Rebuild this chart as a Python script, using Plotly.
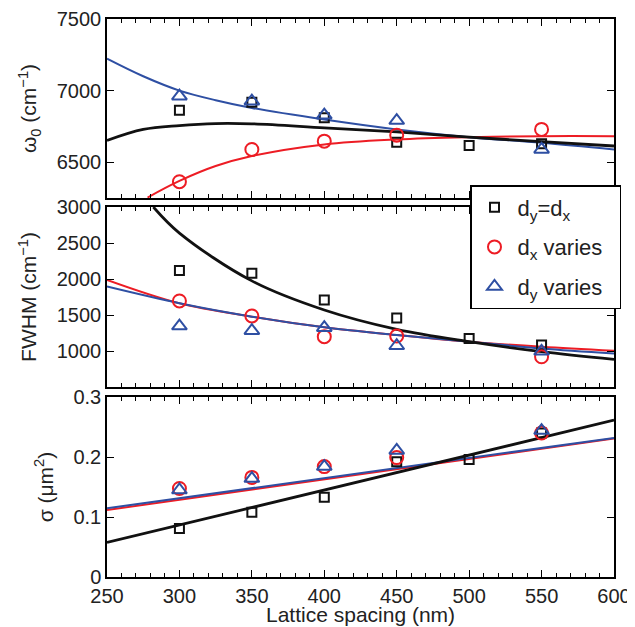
import plotly.graph_objects as go

# ---------------- data ----------------
spacing = [300, 350, 400, 450, 500, 550]
spacing_v = [300, 350, 400, 450, 550]

w0_eq = [6863, 6919, 6810, 6640, 6617, 6629]
w0_dx = [6364, 6589, 6647, 6689, 6729]
w0_dy = [6961, 6926, 6828, 6791, 6589]

fwhm_eq = [2118, 2081, 1709, 1459, 1175, 1083]
fwhm_dx = [1695, 1487, 1199, 1208, 920]
fwhm_dy = [1347, 1282, 1324, 1073, 995]

sig_eq = [0.081, 0.108, 0.133, 0.192, 0.196, 0.240]
sig_dx = [0.1475, 0.166, 0.184, 0.199, 0.240]
sig_dy = [0.145, 0.164, 0.184, 0.211, 0.244]

# fit curves
fit_x = [250, 275, 300, 325, 350, 400, 450, 500, 550, 600]
w0_fit_eq = [6652, 6729, 6756, 6770, 6768, 6740, 6712, 6675, 6643, 6613]
w0_fit_dy = [7223, 7100, 7000, 6933, 6879, 6798, 6729, 6675, 6636, 6589]
w0_fit_dx_x = [278, 300, 325, 350, 400, 450, 500, 550, 600]
w0_fit_dx = [6253, 6369, 6473, 6543, 6624, 6659, 6675, 6682, 6682]

fw_fit_eq_x = [282, 300, 350, 400, 450, 500, 550, 600]
fw_fit_eq = [3000, 2638, 1974, 1570, 1301, 1129, 990, 883]
fw_fit_v_x = [250, 300, 350, 400, 450, 500, 550, 600]
fw_fit_dx = [1988, 1663, 1477, 1329, 1222, 1129, 1059, 1003]
fw_fit_dy = [1895, 1663, 1477, 1329, 1222, 1129, 1036, 966]

lin_x = [250, 600]
sig_fit_eq = [0.0575, 0.2615]
sig_fit_dx = [0.1117, 0.2307]
sig_fit_dy = [0.1145, 0.2318]

xticks = [250, 300, 350, 400, 450, 500, 550, 600]

BLACK = "#111111"
RED = "#ED1C24"
BLUE = "#2E4FA3"

fig = go.Figure()

def add_panel(n, fx_eq, f_eq, fx_dx, f_dx, fx_dy, f_dy, y_eq, y_dx, y_dy, shape, show):
    xa = "x" if n == 1 else f"x{n}"
    ya = "y" if n == 1 else f"y{n}"
    fig.add_trace(go.Scatter(x=fx_dx, y=f_dx, mode="lines", line=dict(color=RED, width=2, shape=shape, smoothing=1),
                             xaxis=xa, yaxis=ya, showlegend=False, hoverinfo="skip"))
    fig.add_trace(go.Scatter(x=fx_dy, y=f_dy, mode="lines", line=dict(color=BLUE, width=2, shape=shape, smoothing=1),
                             xaxis=xa, yaxis=ya, showlegend=False, hoverinfo="skip"))
    fig.add_trace(go.Scatter(x=fx_eq, y=f_eq, mode="lines", line=dict(color=BLACK, width=2.8, shape=shape, smoothing=1),
                             xaxis=xa, yaxis=ya, showlegend=False, hoverinfo="skip"))
    fig.add_trace(go.Scatter(x=spacing, y=y_eq, mode="markers", name="d<sub>y</sub>=d<sub>x</sub>",
                             marker=dict(symbol="square-open", size=9, color=BLACK, line=dict(width=2)),
                             xaxis=xa, yaxis=ya, showlegend=show, legendgroup="g1", legendrank=1))
    fig.add_trace(go.Scatter(x=spacing_v, y=y_dx, mode="markers", name="d<sub>x</sub> varies&nbsp;&nbsp;",
                             marker=dict(symbol="circle-open", size=13, color=RED, line=dict(width=2)),
                             xaxis=xa, yaxis=ya, showlegend=show, legendgroup="g2", legendrank=2))
    fig.add_trace(go.Scatter(x=spacing_v, y=y_dy, mode="markers", name="d<sub>y</sub> varies",
                             marker=dict(symbol="triangle-up-open", size=13, color=BLUE, line=dict(width=2)),
                             xaxis=xa, yaxis=ya, showlegend=show, legendgroup="g3", legendrank=3))

add_panel(1, fit_x, w0_fit_eq, w0_fit_dx_x, w0_fit_dx, fit_x, w0_fit_dy, w0_eq, w0_dx, w0_dy, "spline", True)
add_panel(2, fw_fit_eq_x, fw_fit_eq, fw_fit_v_x, fw_fit_dx, fw_fit_v_x, fw_fit_dy, fwhm_eq, fwhm_dx, fwhm_dy, "spline", False)
add_panel(3, lin_x, sig_fit_eq, lin_x, sig_fit_dx, lin_x, sig_fit_dy, sig_eq, sig_dx, sig_dy, "linear", False)

FONT = "Liberation Sans, Arial, sans-serif"
common_ax = dict(showline=True, linecolor="black", linewidth=1.5, mirror="allticks",
                 ticks="inside", tickcolor="black", ticklen=7, tickwidth=1.2,
                 showgrid=False, zeroline=False, automargin=False,
                 tickfont=dict(size=20, color="#222"))
xcommon = dict(common_ax, range=[250, 600], tickvals=xticks,
               minor=dict(dtick=10, tick0=250, ticks="inside", ticklen=4, tickcolor="black", tickwidth=1))

d1 = [379/558, 1.0]
d2 = [190/558, 370/558]
d3 = [0.0, 180/558]

# page body has an 8px default margin; figure is sized so the plot area lands where the reference has it
fig.update_layout(
    width=627, height=619,
    margin=dict(l=99, r=21, t=11, b=50),
    paper_bgcolor="white", plot_bgcolor="white",
    font=dict(family=FONT, size=20, color="#222"),
    xaxis=dict(xcommon, domain=[0, 1], anchor="y", showticklabels=False),
    xaxis2=dict(xcommon, domain=[0, 1], anchor="y2", showticklabels=False, matches="x"),
    xaxis3=dict(xcommon, domain=[0, 1], anchor="y3", matches="x"),
    yaxis=dict(common_ax, domain=d1, anchor="x", range=[6250, 7500], tickvals=[6500, 7000, 7500],
               title=dict(text="ω<sub>0</sub> (cm<sup>−1</sup>)", font=dict(size=21), standoff=14)),
    yaxis2=dict(common_ax, domain=d2, anchor="x2", range=[500, 3000],
                tickvals=[1000, 1500, 2000, 2500, 3000],
                title=dict(text="FWHM (cm<sup>−1</sup>)", font=dict(size=21), standoff=14)),
    yaxis3=dict(common_ax, domain=d3, anchor="x3", range=[0, 0.3], tickvals=[0, 0.1, 0.2, 0.3],
                ticktext=["0", "0.1", "0.2", "0.3"],
                title=dict(text="σ (μm<sup>2</sup>)", font=dict(size=21), standoff=14)),
    legend=dict(x=(470-107)/507, y=(577-185)/558, xanchor="left", yanchor="top",
                bgcolor="white", bordercolor="black", borderwidth=1.5, traceorder="grouped",
                font=dict(size=22, color="#222"), tracegroupgap=8, itemwidth=36),
    showlegend=True,
    annotations=[dict(text="Lattice spacing (nm)", xref="paper", yref="paper",
                      x=0.5, y=-(614-577)/558, xanchor="center", yanchor="middle",
                      showarrow=False, font=dict(size=21, color="#222"))],
)

fig.write_html("out.html")
